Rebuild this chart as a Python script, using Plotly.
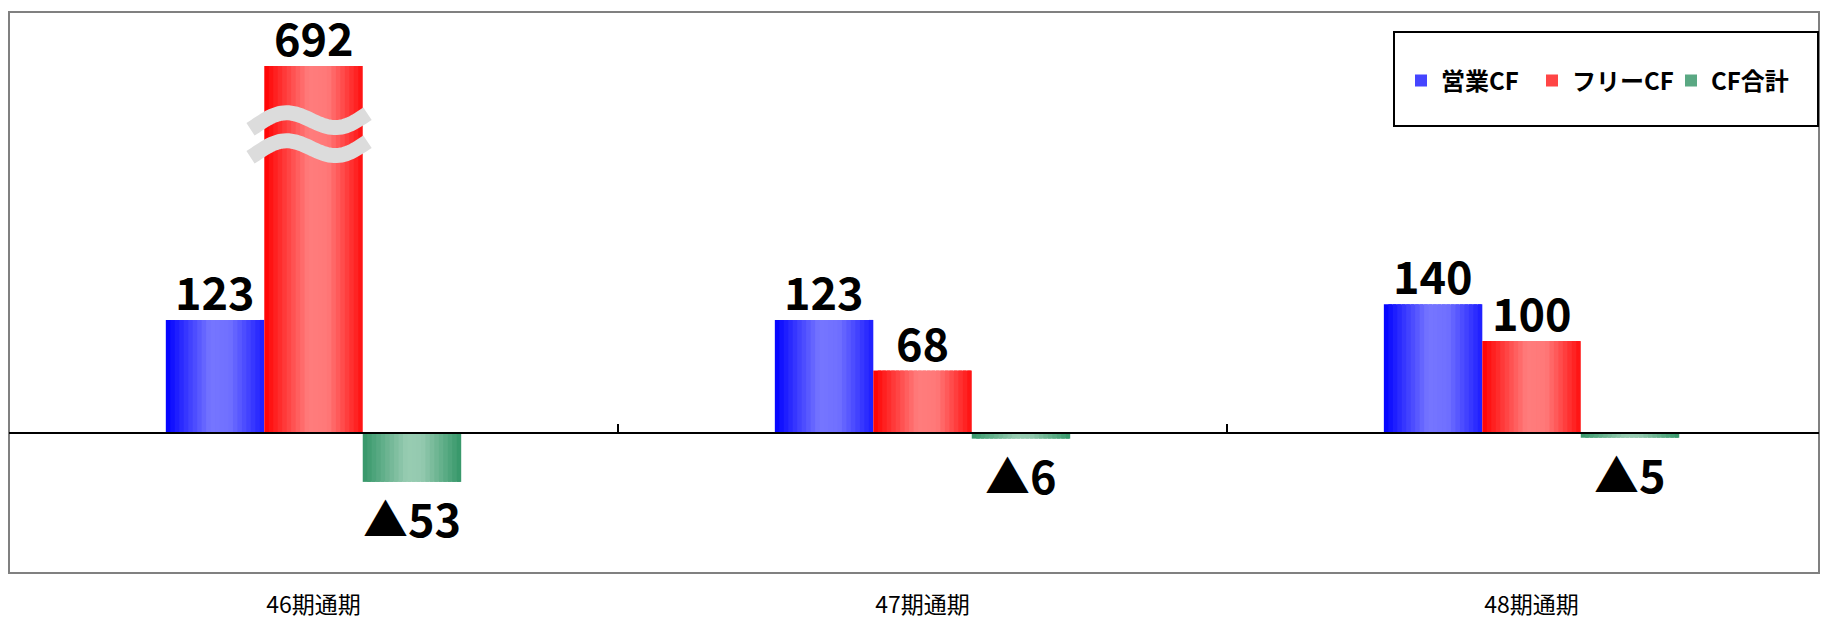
import numpy as np
import plotly.graph_objects as go

# ---------------- data ----------------
categories = ["46期通期", "47期通期", "48期通期"]
series_names = ["営業CF", "フリーCF", "CF合計"]
operating_cf = [123, 123, 140]
free_cf = [692, 68, 100]
total_cf = [-53, -6, -5]
series_values = [operating_cf, free_cf, total_cf]

# axis break: bars above this value are drawn truncated with a "≈" mark
BREAK_CAP = 399

# ---------------- style ----------------
W, H = 1821, 621
M_L, M_R, M_T, M_B = 9, 2, 12, 48
PW, PH = W - M_L - M_R, H - M_T - M_B
Y_RANGE = [-152, 457.6]
X_RANGE = [-0.5, 2.472]
BARGAP = 0.515
BW = (1 - BARGAP) / 3
N_STRIPS = 22
LEGEND_X_PX = [1401, 1532, 1671]

# gradient stops (t, rgb) for each series
gradients = [
    [(0.0, (0, 0, 255)), (0.45, (118, 118, 255)), (0.65, (112, 112, 255)), (1.0, (28, 28, 255))],
    [(0.0, (255, 0, 0)), (0.45, (255, 125, 125)), (0.65, (255, 120, 120)), (1.0, (255, 14, 14))],
    [(0.0, (52, 150, 104)), (0.45, (152, 204, 178)), (0.6, (148, 202, 175)), (1.0, (52, 150, 104))],
]
legend_colors = ["#4545FF", "#FF4545", "#5AA883"]


def grad_color(stops, t):
    for (t0, c0), (t1, c1) in zip(stops[:-1], stops[1:]):
        if t0 <= t <= t1:
            f = (t - t0) / (t1 - t0) if t1 > t0 else 0
            c = [round(a + (b - a) * f) for a, b in zip(c0, c1)]
            return f"rgb({c[0]},{c[1]},{c[2]})"
    c = stops[-1][1]
    return f"rgb({c[0]},{c[1]},{c[2]})"


fig = go.Figure()
legend_ids = ["legend", "legend2", "legend3"]

for j, (name, vals) in enumerate(zip(series_names, series_values)):
    disp = [min(v, BREAK_CAP) for v in vals]
    sw = BW / N_STRIPS
    for k in range(N_STRIPS):
        t = (k + 0.5) / N_STRIPS
        fig.add_trace(go.Bar(
            x=categories, y=disp,
            offset=(j - 1.5) * BW + k * sw,
            width=sw * 1.8 if k < N_STRIPS - 1 else sw,
            marker=dict(color=grad_color(gradients[j], t), line=dict(width=0)),
            showlegend=False, hoverinfo="skip",
        ))
    # legend entry
    fig.add_trace(go.Bar(
        x=[categories[0]], y=[0], name=name, width=0.0001,
        marker=dict(color=legend_colors[j], line=dict(width=0)),
        showlegend=True, hoverinfo="skip", legend=legend_ids[j],
    ))

# value labels
annotations = []
for j, vals in enumerate(series_values):
    for i, v in enumerate(vals):
        d = min(v, BREAK_CAP)
        txt = str(v) if v >= 0 else "▲" + str(-v)
        annotations.append(dict(
            x=i + (j - 1) * BW, y=d, xref="x", yref="y",
            text=txt, showarrow=False,
            yanchor="bottom" if v >= 0 else "top",
            yshift=-5 if v >= 0 else -1,
            font=dict(family="Noto Sans CJK JP", size=45, color="black", weight="bold"),
        ))

# break mark on the truncated bar(s)
dxu = (X_RANGE[1] - X_RANGE[0]) / PW
dyu = (Y_RANGE[1] - Y_RANGE[0]) / PH
shapes = []
for j, vals in enumerate(series_values):
    for i, v in enumerate(vals):
        if v > BREAK_CAP:
            xc = i + (j - 1) * BW
            xs = np.linspace(-63, 54, 50)
            for base in (54, 82):
                ys = base - 10 * np.sin(2 * np.pi * (xs + 57.5) / 110) - 0.1 * xs
                pts = [(xc + x * dxu, BREAK_CAP - y * dyu) for x, y in zip(xs, ys)]
                path = "M " + " L ".join(f"{a:.5f},{b:.3f}" for a, b in pts)
                shapes.append(dict(type="path", path=path, xref="x", yref="y",
                                   line=dict(color="#DCDCDC", width=15)))

# plot border
shapes.append(dict(type="rect", xref="paper", yref="paper", x0=0, x1=1, y0=0, y1=1,
                   line=dict(color="#808080", width=2), layer="below"))
# legend box
shapes.append(dict(type="rect", xref="paper", yref="paper",
                   x0=(1394 - M_L) / PW, x1=(1818 - M_L) / PW,
                   y0=(H - M_B - 126) / PH, y1=(H - M_B - 32) / PH,
                   line=dict(color="black", width=2), fillcolor="white", layer="below"))

zero_pos = (0 - Y_RANGE[0]) / (Y_RANGE[1] - Y_RANGE[0])

legend_common = dict(orientation="h", xanchor="left",
                     y=(H - M_B - 81) / PH, yanchor="middle",
                     bgcolor="rgba(0,0,0,0)", borderwidth=0,
                     font=dict(family="Noto Sans CJK JP", size=24, color="black", weight="bold"))

fig.update_layout(
    width=W, height=H,
    margin=dict(l=M_L, r=M_R, t=M_T, b=M_B, autoexpand=False),
    paper_bgcolor="white", plot_bgcolor="white",
    barmode="overlay",
    showlegend=True,
    legend=dict(x=(LEGEND_X_PX[0] - M_L) / PW, **legend_common),
    legend2=dict(x=(LEGEND_X_PX[1] - M_L) / PW, **legend_common),
    legend3=dict(x=(LEGEND_X_PX[2] - M_L) / PW, **legend_common),
    xaxis=dict(type="category", range=X_RANGE, anchor="free", position=zero_pos,
               showline=True, linecolor="black", linewidth=2,
               ticks="inside", ticklen=8, tickwidth=1.5, tickcolor="black",
               tickson="boundaries", ticklabelstandoff=151,
               showgrid=False, zeroline=False, automargin=False,
               tickfont=dict(family="Noto Sans CJK JP", size=23, color="black")),
    yaxis=dict(range=Y_RANGE, visible=False, showgrid=False, zeroline=False, fixedrange=True),
    annotations=annotations,
    shapes=shapes,
)

fig.write_html("out.html")
